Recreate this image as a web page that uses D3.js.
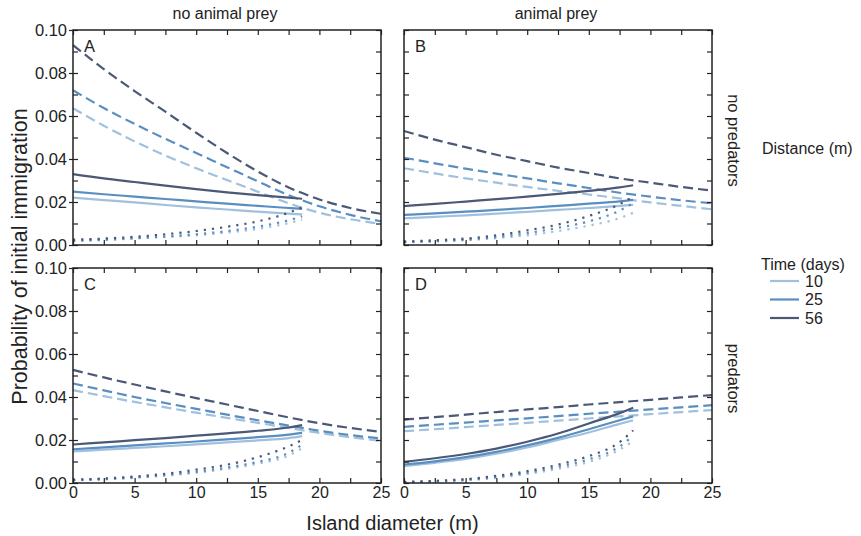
<!DOCTYPE html>
<html>
<head>
<meta charset="utf-8">
<script src="https://cdn.jsdelivr.net/npm/d3@7"></script>
<style>
  body { margin: 0; background: #fff; }
  svg text { font-family: "Liberation Sans", Arial, sans-serif; fill: #222; }
  .frame { fill: none; stroke: #222; stroke-width: 1.5; }
  .ticks path.domain { display: none; }
  .ticks line { stroke: #222; stroke-width: 1.2; }
  .series { fill: none; stroke-width: 2.2; }
</style>
</head>
<body>
<script>
// x positions of the model curves: dashed span the full range, solid/dotted stop near 18.6 m
const xLong = [0, 2.5, 5, 7.5, 10, 12.5, 15, 17.5, 20, 22.5, 25];
const xShort = [0, 2.5, 5, 7.5, 10, 12.5, 15, 17.5, 18.6];

const times = ["10", "25", "56"];
const timeColors = ["#a0c0dd", "#5a8ec1", "#4b5876"];

const colLabels = ["no animal prey", "animal prey"];
const rowLabels = ["no predators", "predators"];
const panelLetters = ["A", "B", "C", "D"];
const xTickLabels = [0, 5, 10, 15, 20, 25];
const yTickLabels = [0, 0.02, 0.04, 0.06, 0.08, 0.10];

// each array: [10 days, 25 days, 56 days]
const aDashed = [
  [0.0636, 0.0555, 0.0482, 0.0416, 0.0357, 0.0302, 0.0248, 0.0194, 0.0150, 0.0120, 0.0098],
  [0.072, 0.0637, 0.0563, 0.0494, 0.0428, 0.0362, 0.0296, 0.0232, 0.0180, 0.0140, 0.0110],
  [0.093, 0.0818, 0.0716, 0.0620, 0.0522, 0.0428, 0.0342, 0.0268, 0.0212, 0.0172, 0.0145]
];
const aSolid = [
  [0.022, 0.0209, 0.0198, 0.0186, 0.0175, 0.0165, 0.0155, 0.0146, 0.0142],
  [0.0248, 0.0236, 0.0225, 0.0214, 0.0203, 0.0192, 0.0182, 0.0172, 0.0168],
  [0.033, 0.031, 0.0293, 0.0276, 0.026, 0.0245, 0.0232, 0.022, 0.0215]
];
const aDotted = [
  [0.0018, 0.0023, 0.003, 0.0037, 0.0045, 0.0058, 0.0075, 0.0102, 0.0118],
  [0.002, 0.0025, 0.0032, 0.004, 0.005, 0.0065, 0.0085, 0.0115, 0.0133],
  [0.0025, 0.003, 0.0038, 0.005, 0.0065, 0.0085, 0.011, 0.015, 0.0175]
];

const bDashed = [
  [0.0357, 0.0333, 0.031, 0.029, 0.027, 0.0252, 0.0235, 0.0217, 0.0198, 0.0182, 0.0166],
  [0.0406, 0.038, 0.0355, 0.0332, 0.031, 0.0287, 0.0265, 0.0243, 0.0225, 0.0208, 0.0194],
  [0.053, 0.049, 0.0455, 0.042, 0.039, 0.036, 0.0335, 0.031, 0.029, 0.027, 0.0253]
];
const bSolid = [
  [0.0124, 0.0131, 0.0138, 0.0146, 0.0154, 0.0163, 0.0172, 0.0182, 0.0187],
  [0.014, 0.0147, 0.0155, 0.0163, 0.0172, 0.0182, 0.0192, 0.0203, 0.021],
  [0.0181, 0.0191, 0.0202, 0.0213, 0.0225, 0.0238, 0.0252, 0.0268, 0.0278]
];
const bDotted = [
  [0.0012, 0.0016, 0.0022, 0.0032, 0.0045, 0.0065, 0.009, 0.0125, 0.015],
  [0.0014, 0.0018, 0.0025, 0.0037, 0.0055, 0.008, 0.011, 0.016, 0.0195],
  [0.0016, 0.0022, 0.003, 0.0045, 0.0068, 0.0095, 0.0135, 0.019, 0.0225]
];

const cDashed = [
  [0.0432, 0.0404, 0.0377, 0.0352, 0.0327, 0.0303, 0.028, 0.0256, 0.0233, 0.0213, 0.0196],
  [0.0463, 0.0431, 0.040, 0.0372, 0.0345, 0.0318, 0.0292, 0.0267, 0.0243, 0.0223, 0.0207],
  [0.0526, 0.0491, 0.0458, 0.0426, 0.0395, 0.0365, 0.0335, 0.0305, 0.0278, 0.0256, 0.0238]
];
const cSolid = [
  [0.0147, 0.0155, 0.0163, 0.0171, 0.018, 0.0189, 0.0198, 0.0209, 0.0218],
  [0.0157, 0.0166, 0.0175, 0.0184, 0.0193, 0.0203, 0.0213, 0.0225, 0.0233],
  [0.0179, 0.0189, 0.0199, 0.0209, 0.022, 0.0231, 0.0243, 0.0258, 0.0269]
];
const cDotted = [
  [0.0012, 0.0017, 0.0024, 0.0034, 0.0048, 0.0066, 0.009, 0.0128, 0.0162],
  [0.0013, 0.0018, 0.0026, 0.0037, 0.0052, 0.0072, 0.0098, 0.014, 0.0178],
  [0.0015, 0.0021, 0.003, 0.0043, 0.0062, 0.0085, 0.012, 0.017, 0.020]
];

const dDashed = [
  [0.0241, 0.025, 0.026, 0.027, 0.028, 0.029, 0.030, 0.031, 0.032, 0.033, 0.0339],
  [0.0261, 0.0271, 0.0281, 0.0291, 0.0301, 0.0311, 0.0322, 0.0332, 0.0342, 0.0352, 0.0362],
  [0.0295, 0.0306, 0.0318, 0.033, 0.0342, 0.0353, 0.0365, 0.0376, 0.0387, 0.0398, 0.0409]
];
const dSolid = [
  [0.0078, 0.0094, 0.0112, 0.0136, 0.0165, 0.020, 0.0235, 0.0275, 0.0292],
  [0.0086, 0.0101, 0.012, 0.0145, 0.0175, 0.021, 0.025, 0.0292, 0.031],
  [0.0098, 0.0115, 0.0135, 0.016, 0.0192, 0.023, 0.0277, 0.0325, 0.035]
];
const dDotted = [
  [0.0003, 0.0006, 0.0012, 0.0024, 0.0042, 0.0066, 0.0098, 0.0155, 0.0195],
  [0.0004, 0.0008, 0.0015, 0.0028, 0.0048, 0.0075, 0.011, 0.017, 0.022],
  [0.0005, 0.001, 0.0018, 0.0033, 0.0055, 0.0085, 0.0125, 0.019, 0.0245]
];

const panels = [
  { dashed: aDashed, solid: aSolid, dotted: aDotted },
  { dashed: bDashed, solid: bSolid, dotted: bDotted },
  { dashed: cDashed, solid: cSolid, dotted: cDotted },
  { dashed: dDashed, solid: dSolid, dotted: dDotted }
];

// ---------------- layout ---------------- //
const width = 861, height = 536;
const colX = [73, 404];
const rowY = [30, 268];
const pw = 308, ph = 215;

const svg = d3.select("body").append("svg")
  .attr("width", width)
  .attr("height", height);

panels.forEach((p, i) => drawPanel(p, i));
drawLabels();
drawLegend();

function drawPanel(p, i) {
  const col = i % 2, row = Math.floor(i / 2);
  const x = d3.scaleLinear().domain([0, 25]).range([colX[col], colX[col] + pw]);
  const y = d3.scaleLinear().domain([0, 0.1]).range([rowY[row] + ph, rowY[row]]);

  const g = svg.append("g");

  // Model curves
  const styles = [
    { key: "dashed", xs: xLong, dash: "10,5" },
    { key: "solid", xs: xShort, dash: null },
    { key: "dotted", xs: xShort, dash: "2.2,6" }
  ];
  styles.forEach(s => {
    p[s.key].forEach((vals, t) => {
      const line = d3.line()
        .x((d, k) => x(s.xs[k]))
        .y(d => y(d))
        .curve(d3.curveMonotoneX);
      g.append("path")
        .attr("class", "series")
        .attr("d", line(vals))
        .attr("stroke", timeColors[t])
        .attr("stroke-width", s.key === "dotted" ? 2.6 : 2.2)
        .attr("stroke-dasharray", s.dash);
    });
  });

  // Inward ticks on all four sides
  const xMinor = d3.range(0, 25.01, 2.5);
  const yMinor = d3.range(0, 0.1001, 0.01);
  g.append("g").attr("class", "ticks")
    .attr("transform", `translate(0,${rowY[row] + ph})`)
    .call(d3.axisBottom(x).tickValues(xMinor).tickSize(-5).tickFormat(""));
  g.append("g").attr("class", "ticks")
    .attr("transform", `translate(0,${rowY[row]})`)
    .call(d3.axisTop(x).tickValues(xMinor).tickSize(-5).tickFormat(""));
  g.append("g").attr("class", "ticks")
    .attr("transform", `translate(${colX[col]},0)`)
    .call(d3.axisLeft(y).tickValues(yMinor).tickSize(-5).tickFormat(""));
  g.append("g").attr("class", "ticks")
    .attr("transform", `translate(${colX[col] + pw},0)`)
    .call(d3.axisRight(y).tickValues(yMinor).tickSize(-5).tickFormat(""));

  // Tick labels
  if (col === 0) {
    const ax = g.append("g").attr("class", "ticks")
      .attr("transform", `translate(${colX[col]},0)`)
      .call(d3.axisLeft(y).tickValues(yTickLabels).tickSize(4).tickPadding(2)
        .tickFormat(d3.format(".2f")));
    ax.selectAll("text").style("font-size", "16.5px");
  }
  if (row === 1) {
    const ax = g.append("g").attr("class", "ticks")
      .attr("transform", `translate(0,${rowY[row] + ph})`)
      .call(d3.axisBottom(x).tickValues(xTickLabels).tickSize(0).tickPadding(4));
    ax.selectAll("text").style("font-size", "16px");
  }

  g.append("rect")
    .attr("class", "frame")
    .attr("x", colX[col])
    .attr("y", rowY[row])
    .attr("width", pw)
    .attr("height", ph);

  g.append("text")
    .attr("x", colX[col] + 11)
    .attr("y", rowY[row] + 22)
    .style("font-size", "16.5px")
    .text(panelLetters[i]);
}

function drawLabels() {
  colLabels.forEach((d, c) => {
    svg.append("text")
      .attr("x", colX[c] + pw / 2 - 2)
      .attr("y", 19)
      .attr("text-anchor", "middle")
      .style("font-size", "16px")
      .text(d);
  });

  rowLabels.forEach((d, r) => {
    const cy = rowY[r] + ph / 2;
    svg.append("text")
      .attr("transform", `translate(728,${cy + 3}) rotate(90)`)
      .attr("text-anchor", "middle")
      .style("font-size", "16.5px")
      .text(d);
  });

  svg.append("text")
    .attr("x", (colX[0] + colX[1] + pw) / 2)
    .attr("y", 530)
    .attr("text-anchor", "middle")
    .style("font-size", "20px")
    .text("Island diameter (m)");

  svg.append("text")
    .attr("transform", `translate(27,${(rowY[0] + rowY[1] + ph) / 2}) rotate(-90)`)
    .attr("text-anchor", "middle")
    .style("font-size", "21.5px")
    .text("Probability of initial immigration");
}

function drawLegend() {
  svg.append("text")
    .attr("x", 762)
    .attr("y", 154)
    .style("font-size", "16px")
    .text("Distance (m)");

  svg.append("text")
    .attr("x", 761)
    .attr("y", 270)
    .style("font-size", "16px")
    .text("Time (days)");

  const items = svg.append("g").selectAll("g")
    .data(times)
    .enter()
    .append("g")
    .attr("transform", (d, i) => `translate(0,${281 + i * 18.5})`);

  items.append("line")
    .attr("x1", 770)
    .attr("x2", 799)
    .attr("stroke", (d, i) => timeColors[i])
    .attr("stroke-width", 2.2);

  items.append("text")
    .attr("x", 805)
    .attr("y", 5.5)
    .style("font-size", "16px")
    .text(d => d);
}
</script>
</body>
</html>
